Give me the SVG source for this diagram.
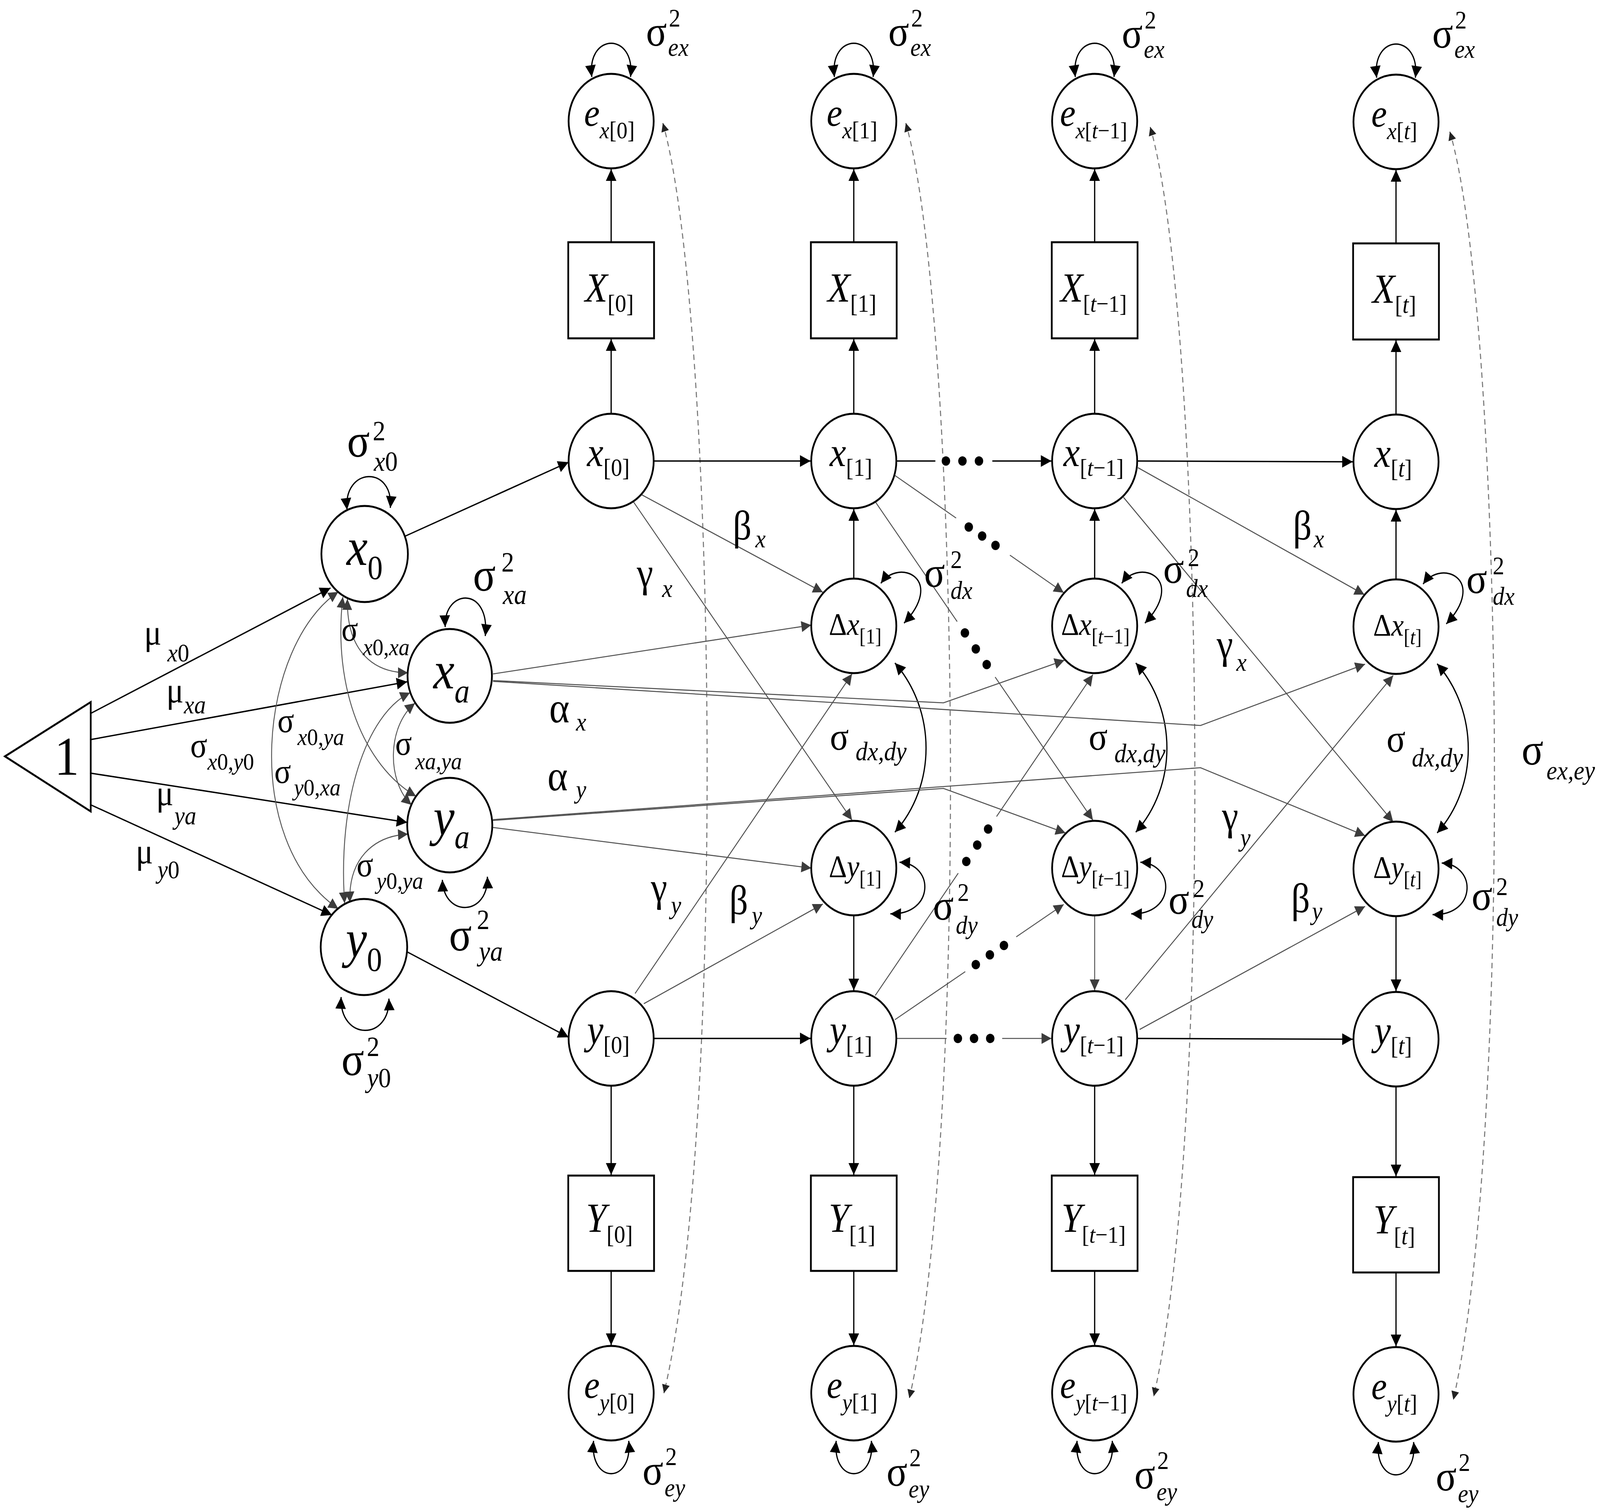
<svg xmlns="http://www.w3.org/2000/svg" width="4550" height="3865" viewBox="0 0 4550 3865">
<style>
.t{font-family:"Liberation Serif","Times New Roman",serif;fill:#000}
.i{font-style:italic}
.n{fill:#fff;stroke:#000;stroke-width:5}
.k{stroke:#000;stroke-width:3.5;fill:none}
.g{stroke:#505050;stroke-width:2.6;fill:none}
.c{stroke:#000;stroke-width:3.5;fill:none}
.cg{stroke:#555;stroke-width:2.6;fill:none}
.ds{stroke:#777;stroke-width:3;stroke-dasharray:14 10;fill:none}
.dot{fill:#000}
</style>
<defs>
<marker id="ak" viewBox="0 0 10 10" refX="10" refY="5" markerUnits="userSpaceOnUse" markerWidth="40" markerHeight="30" orient="auto-start-reverse"><path d="M0,0 L10,5 L0,10 z" fill="#000"/></marker>
<marker id="ag" viewBox="0 0 10 10" refX="10" refY="5" markerUnits="userSpaceOnUse" markerWidth="38" markerHeight="28" orient="auto-start-reverse"><path d="M0,0 L10,5 L0,10 z" fill="#3c3c3c"/></marker>
<marker id="ad" viewBox="0 0 10 10" refX="10" refY="5" markerUnits="userSpaceOnUse" markerWidth="26" markerHeight="22" orient="auto-start-reverse"><path d="M0,0 L10,5 L0,10 z" fill="#222"/></marker>
</defs>
<rect width="4550" height="3865" fill="#fff"/>
<g id="diagram" transform="scale(0.9002 1)">

<g id="connectors">
<path class="ds" d="M1885,315 C2037,800 2067,2900 1888,3566" marker-start="url(#ad)" marker-end="url(#ad)"/>
<path class="ds" d="M2576,315 C2728,800 2758,2900 2586,3579" marker-start="url(#ad)" marker-end="url(#ad)"/>
<path class="ds" d="M3271,325 C3423,800 3453,2900 3281,3574" marker-start="url(#ad)" marker-end="url(#ad)"/>
<path class="ds" d="M4123,337 C4275,800 4305,2900 4133,3583" marker-start="url(#ad)" marker-end="url(#ad)"/>

<line class="k" x1="1738" y1="1059" x2="1738" y2="868" marker-end="url(#ak)"/>
<line class="k" x1="2428" y1="1059" x2="2428" y2="868" marker-end="url(#ak)"/>
<line class="k" x1="3113" y1="1059" x2="3113" y2="868" marker-end="url(#ak)"/>
<line class="k" x1="3970" y1="1061" x2="3970" y2="871" marker-end="url(#ak)"/>
<line class="k" x1="1738" y1="620" x2="1738" y2="433" marker-end="url(#ak)"/>
<line class="k" x1="2428" y1="620" x2="2428" y2="433" marker-end="url(#ak)"/>
<line class="k" x1="3113" y1="620" x2="3113" y2="433" marker-end="url(#ak)"/>
<line class="k" x1="3970" y1="623" x2="3970" y2="435" marker-end="url(#ak)"/>
<line class="k" x1="1738" y1="2779" x2="1738" y2="3007" marker-end="url(#ak)"/>
<line class="k" x1="2428" y1="2779" x2="2428" y2="3007" marker-end="url(#ak)"/>
<line class="k" x1="3113" y1="2779" x2="3113" y2="3007" marker-end="url(#ak)"/>
<line class="k" x1="3970" y1="2781" x2="3970" y2="3011" marker-end="url(#ak)"/>
<line class="k" x1="1738" y1="3253" x2="1738" y2="3443" marker-end="url(#ak)"/>
<line class="k" x1="2428" y1="3253" x2="2428" y2="3443" marker-end="url(#ak)"/>
<line class="k" x1="3113" y1="3253" x2="3113" y2="3443" marker-end="url(#ak)"/>
<line class="k" x1="3970" y1="3257" x2="3970" y2="3446" marker-end="url(#ak)"/>
<line class="k" x1="2428" y1="1481" x2="2428" y2="1303" marker-end="url(#ak)"/>
<line class="k" x1="3113" y1="1481" x2="3113" y2="1303" marker-end="url(#ak)"/>
<line class="k" x1="3970" y1="1483" x2="3970" y2="1305" marker-end="url(#ak)"/>
<line class="k" x1="2428" y1="2343" x2="2428" y2="2535" marker-end="url(#ak)"/>
<line class="g" x1="3113" y1="2343" x2="3113" y2="2535" marker-end="url(#ag)"/>
<line class="k" x1="3970" y1="2345" x2="3970" y2="2537" marker-end="url(#ak)"/>

<line class="k" x1="1859" y1="1180" x2="2305" y2="1180" marker-end="url(#ak)"/>
<line class="k" x1="2549" y1="1180" x2="2660" y2="1180"/>
<circle class="dot" cx="2690" cy="1180" r="12"/><circle class="dot" cx="2737" cy="1180" r="12"/><circle class="dot" cx="2784" cy="1180" r="12"/>
<line class="k" x1="2822" y1="1180" x2="2990" y2="1180" marker-end="url(#ak)"/>
<line class="k" x1="3234" y1="1180" x2="3847" y2="1182" marker-end="url(#ak)"/>
<line class="k" x1="1859" y1="2658" x2="2305" y2="2658" marker-end="url(#ak)"/>
<line class="g" x1="2549" y1="2658" x2="2692" y2="2658"/>
<circle class="dot" cx="2724" cy="2658" r="12"/><circle class="dot" cx="2770" cy="2658" r="12"/><circle class="dot" cx="2816" cy="2658" r="12"/>
<line class="g" x1="2850" y1="2658" x2="2990" y2="2658" marker-end="url(#ag)"/>
<line class="k" x1="3234" y1="2658" x2="3847" y2="2660" marker-end="url(#ak)"/>

<line class="k" x1="258" y1="1826" x2="940" y2="1505" marker-end="url(#ak)"/>
<line class="k" x1="258" y1="1893" x2="1158" y2="1745" marker-end="url(#ak)"/>
<line class="k" x1="258" y1="1979" x2="1158" y2="2105" marker-end="url(#ak)"/>
<line class="k" x1="258" y1="2060" x2="944" y2="2342" marker-end="url(#ak)"/>
<line class="k" x1="1153" y1="1372" x2="1617" y2="1183" marker-end="url(#ak)"/>
<line class="k" x1="1157" y1="2436" x2="1617" y2="2655" marker-end="url(#ak)"/>

<path class="cg" d="M988,1533 C985,1670 1065,1722 1160,1722" marker-start="url(#ag)" marker-end="url(#ag)"/>
<path class="cg" d="M975,1528 C945,1760 1035,1960 1183,2038" marker-start="url(#ag)" marker-end="url(#ag)"/>
<path class="cg" d="M962,1515 C740,1650 680,2150 962,2326" marker-start="url(#ag)" marker-end="url(#ag)"/>
<path class="cg" d="M980,2312 C960,2050 1040,1830 1166,1773" marker-start="url(#ag)" marker-end="url(#ag)"/>
<path class="cg" d="M1180,1800 C1100,1860 1100,2000 1170,2060" marker-start="url(#ag)" marker-end="url(#ag)"/>
<path class="cg" d="M995,2310 C990,2200 1060,2140 1160,2135" marker-start="url(#ag)" marker-end="url(#ag)"/>

<path class="c" d="M987,1305 C975,1195 1120,1190 1110,1300" marker-start="url(#ak)" marker-end="url(#ak)"/>
<path class="c" d="M1266,1605 C1262,1505 1395,1500 1380,1628" marker-start="url(#ak)" marker-end="url(#ak)"/>
<path class="c" d="M1258,2252 C1262,2350 1390,2345 1386,2244" marker-start="url(#ak)" marker-end="url(#ak)"/>
<path class="c" d="M970,2552 C965,2665 1110,2665 1106,2556" marker-start="url(#ak)" marker-end="url(#ak)"/>
<path class="c" d="M1683,197 C1668,82 1808,82 1793,197" marker-start="url(#ak)" marker-end="url(#ak)"/>
<path class="c" d="M2373,197 C2358,82 2498,82 2483,197" marker-start="url(#ak)" marker-end="url(#ak)"/>
<path class="c" d="M3058,197 C3043,82 3183,82 3168,197" marker-start="url(#ak)" marker-end="url(#ak)"/>
<path class="c" d="M3915,199 C3900,84 4040,84 4025,199" marker-start="url(#ak)" marker-end="url(#ak)"/>
<path class="c" d="M1688,3688 C1676,3800 1800,3800 1788,3688" marker-start="url(#ak)" marker-end="url(#ak)"/>
<path class="c" d="M2378,3688 C2366,3800 2490,3800 2478,3688" marker-start="url(#ak)" marker-end="url(#ak)"/>
<path class="c" d="M3063,3688 C3051,3800 3175,3800 3163,3688" marker-start="url(#ak)" marker-end="url(#ak)"/>
<path class="c" d="M3920,3691 C3908,3803 4032,3803 4020,3691" marker-start="url(#ak)" marker-end="url(#ak)"/>
<path class="c" d="M2505,1493 C2558,1427 2688,1482 2571,1595" marker-start="url(#ak)" marker-end="url(#ak)"/>
<path class="c" d="M3190,1493 C3243,1427 3373,1482 3256,1595" marker-start="url(#ak)" marker-end="url(#ak)"/>
<path class="c" d="M4047,1495 C4100,1429 4230,1484 4113,1597" marker-start="url(#ak)" marker-end="url(#ak)"/>
<path class="c" d="M2558,2207 C2658,2212 2658,2342 2532,2339" marker-start="url(#ak)" marker-end="url(#ak)"/>
<path class="c" d="M3243,2207 C3343,2212 3343,2342 3217,2339" marker-start="url(#ak)" marker-end="url(#ak)"/>
<path class="c" d="M4100,2209 C4200,2214 4200,2344 4074,2341" marker-start="url(#ak)" marker-end="url(#ak)"/>
<path class="c" d="M2545,1697 C2663,1820 2663,2010 2545,2130" marker-start="url(#ak)" marker-end="url(#ak)"/>
<path class="c" d="M3230,1697 C3348,1820 3348,2010 3230,2130" marker-start="url(#ak)" marker-end="url(#ak)"/>
<path class="c" d="M4087,1699 C4205,1822 4205,2012 4087,2132" marker-start="url(#ak)" marker-end="url(#ak)"/>

<line class="g" x1="1402" y1="1725" x2="2307" y2="1600" marker-end="url(#ag)"/>
<polyline class="g" points="1402,1742 2683,1799 3027,1690" marker-end="url(#ag)"/>
<polyline class="g" points="1402,1744 3414,1857 3882,1700" marker-end="url(#ag)"/>
<line class="g" x1="1402" y1="2118" x2="2307" y2="2222" marker-end="url(#ag)"/>
<polyline class="g" points="1402,2100 2683,2018 3030,2132" marker-end="url(#ag)"/>
<polyline class="g" points="1402,2098 3414,1965 3882,2139" marker-end="url(#ag)"/>

<line class="g" x1="1824" y1="1266" x2="2340" y2="1516" marker-end="url(#ag)"/>
<line class="g" x1="2545" y1="1217" x2="2719" y2="1326"/>
<circle class="dot" cx="2755" cy="1349" r="12"/><circle class="dot" cx="2793" cy="1372" r="12"/><circle class="dot" cx="2831" cy="1396" r="12"/>
<line class="g" x1="2872" y1="1421" x2="3025" y2="1517" marker-end="url(#ag)"/>
<line class="g" x1="3236" y1="1197" x2="3880" y2="1522" marker-end="url(#ag)"/>
<line class="g" x1="1831" y1="2569" x2="2340" y2="2314" marker-end="url(#ag)"/>
<line class="g" x1="2545" y1="2610" x2="2745" y2="2487"/>
<circle class="dot" cx="2775" cy="2469" r="12"/><circle class="dot" cx="2815" cy="2444" r="12"/><circle class="dot" cx="2855" cy="2420" r="12"/>
<line class="g" x1="2890" y1="2398" x2="3025" y2="2315" marker-end="url(#ag)"/>
<line class="g" x1="3241" y1="2635" x2="3882" y2="2320" marker-end="url(#ag)"/>

<line class="g" x1="1801" y1="1284" x2="2423" y2="2099" marker-end="url(#ag)"/>
<line class="g" x1="2489" y1="1284" x2="2722" y2="1591"/>
<circle class="dot" cx="2744" cy="1620" r="12"/><circle class="dot" cx="2775" cy="1661" r="12"/><circle class="dot" cx="2806" cy="1701" r="12"/>
<line class="g" x1="2830" y1="1733" x2="3108" y2="2099" marker-end="url(#ag)"/>
<line class="g" x1="3195" y1="1273" x2="3962" y2="2104" marker-end="url(#ag)"/>
<line class="g" x1="1806" y1="2543" x2="2423" y2="1725" marker-end="url(#ag)"/>
<line class="g" x1="2489" y1="2548" x2="2725" y2="2235"/>
<circle class="dot" cx="2748" cy="2205" r="12"/><circle class="dot" cx="2779" cy="2163" r="12"/><circle class="dot" cx="2810" cy="2122" r="12"/>
<line class="g" x1="2834" y1="2090" x2="3108" y2="1727" marker-end="url(#ag)"/>
<line class="g" x1="3200" y1="2559" x2="3962" y2="1729" marker-end="url(#ag)"/>
</g>

<g id="n-one"><polygon class="n" points="14,1936 258,1797 258,2077"/><text class="t" x="190" y="1983" text-anchor="middle" font-size="140">1</text></g>
<g id="n-x0"><circle class="n" cx="1037" cy="1418" r="123"/><text class="t" x="1037" y="1446" text-anchor="middle" font-size="135"><tspan class="i">x</tspan><tspan font-size="86" dy="36">0</tspan></text></g>
<g id="n-xa"><circle class="n" cx="1279" cy="1730" r="120"/><text class="t" x="1284" y="1762" text-anchor="middle" font-size="135"><tspan class="i">x</tspan><tspan class="i" font-size="86" dy="36">a</tspan></text></g>
<g id="n-ya"><circle class="n" cx="1279" cy="2112" r="121"/><text class="t" x="1284" y="2137" text-anchor="middle" font-size="135"><tspan class="i">y</tspan><tspan class="i" font-size="86" dy="34">a</tspan></text></g>
<g id="n-y0"><circle class="n" cx="1035" cy="2424" r="123"/><text class="t" x="1035" y="2449" text-anchor="middle" font-size="135"><tspan class="i">y</tspan><tspan font-size="86" dy="36">0</tspan></text></g>

<g id="n-ex0"><circle class="n" cx="1738" cy="310" r="121"/><text class="t" x="1733" y="322" text-anchor="middle" font-size="100"><tspan class="i">e</tspan><tspan font-size="62" dy="32"><tspan class="i">x</tspan>[0]</tspan></text></g>
<g id="n-X0"><rect class="n" x="1616" y="620" width="244" height="246"/><text class="t" x="1733" y="772" text-anchor="middle" font-size="105"><tspan class="i">X</tspan><tspan font-size="64" dy="26">[0]</tspan></text></g>
<g id="n-x_0"><circle class="n" cx="1738" cy="1180" r="121"/><text class="t" x="1730" y="1193" text-anchor="middle" font-size="105"><tspan class="i">x</tspan><tspan font-size="64" dy="25">[0]</tspan></text></g>
<g id="n-y_0"><circle class="n" cx="1738" cy="2658" r="121"/><text class="t" x="1730" y="2671" text-anchor="middle" font-size="105"><tspan class="i">y</tspan><tspan font-size="64" dy="25">[0]</tspan></text></g>
<g id="n-Y0"><rect class="n" x="1616" y="3009" width="244" height="244"/><text class="t" x="1733" y="3153" text-anchor="middle" font-size="105"><tspan class="i">Y</tspan><tspan font-size="64" dy="28">[0]</tspan></text></g>
<g id="n-ey0"><circle class="n" cx="1738" cy="3566" r="121"/><text class="t" x="1733" y="3578" text-anchor="middle" font-size="100"><tspan class="i">e</tspan><tspan font-size="62" dy="32"><tspan class="i">y</tspan>[0]</tspan></text></g>

<g id="n-ex1"><circle class="n" cx="2428" cy="310" r="121"/><text class="t" x="2423" y="322" text-anchor="middle" font-size="100"><tspan class="i">e</tspan><tspan font-size="62" dy="32"><tspan class="i">x</tspan>[1]</tspan></text></g>
<g id="n-X1"><rect class="n" x="2306" y="620" width="244" height="246"/><text class="t" x="2423" y="772" text-anchor="middle" font-size="105"><tspan class="i">X</tspan><tspan font-size="64" dy="26">[1]</tspan></text></g>
<g id="n-x_1"><circle class="n" cx="2428" cy="1180" r="121"/><text class="t" x="2420" y="1193" text-anchor="middle" font-size="105"><tspan class="i">x</tspan><tspan font-size="64" dy="25">[1]</tspan></text></g>
<g id="n-dx1"><circle class="n" cx="2428" cy="1602" r="121"/><text class="t" x="2432" y="1625" text-anchor="middle" font-size="80">Δ<tspan class="i">x</tspan><tspan font-size="54" dy="22">[1]</tspan></text></g>
<g id="n-dy1"><circle class="n" cx="2428" cy="2222" r="121"/><text class="t" x="2432" y="2245" text-anchor="middle" font-size="80">Δ<tspan class="i">y</tspan><tspan font-size="54" dy="22">[1]</tspan></text></g>
<g id="n-y_1"><circle class="n" cx="2428" cy="2658" r="121"/><text class="t" x="2420" y="2671" text-anchor="middle" font-size="105"><tspan class="i">y</tspan><tspan font-size="64" dy="25">[1]</tspan></text></g>
<g id="n-Y1"><rect class="n" x="2306" y="3009" width="244" height="244"/><text class="t" x="2423" y="3153" text-anchor="middle" font-size="105"><tspan class="i">Y</tspan><tspan font-size="64" dy="28">[1]</tspan></text></g>
<g id="n-ey1"><circle class="n" cx="2428" cy="3566" r="121"/><text class="t" x="2423" y="3578" text-anchor="middle" font-size="100"><tspan class="i">e</tspan><tspan font-size="62" dy="32"><tspan class="i">y</tspan>[1]</tspan></text></g>

<g id="n-ext1"><circle class="n" cx="3113" cy="310" r="121"/><text class="t" x="3110" y="322" text-anchor="middle" font-size="100"><tspan class="i">e</tspan><tspan font-size="60" dy="32"><tspan class="i">x</tspan>[<tspan class="i">t</tspan>−1]</tspan></text></g>
<g id="n-Xt1"><rect class="n" x="2991" y="620" width="244" height="246"/><text class="t" x="3110" y="772" text-anchor="middle" font-size="105"><tspan class="i">X</tspan><tspan font-size="62" dy="26">[<tspan class="i">t</tspan>−1]</tspan></text></g>
<g id="n-x_t1"><circle class="n" cx="3113" cy="1180" r="121"/><text class="t" x="3110" y="1193" text-anchor="middle" font-size="105"><tspan class="i">x</tspan><tspan font-size="62" dy="25">[<tspan class="i">t</tspan>−1]</tspan></text></g>
<g id="n-dxt1"><circle class="n" cx="3113" cy="1602" r="121"/><text class="t" x="3115" y="1625" text-anchor="middle" font-size="80">Δ<tspan class="i">x</tspan><tspan font-size="54" dy="22">[<tspan class="i">t</tspan>−1]</tspan></text></g>
<g id="n-dyt1"><circle class="n" cx="3113" cy="2222" r="121"/><text class="t" x="3115" y="2245" text-anchor="middle" font-size="80">Δ<tspan class="i">y</tspan><tspan font-size="54" dy="22">[<tspan class="i">t</tspan>−1]</tspan></text></g>
<g id="n-y_t1"><circle class="n" cx="3113" cy="2658" r="121"/><text class="t" x="3110" y="2671" text-anchor="middle" font-size="105"><tspan class="i">y</tspan><tspan font-size="62" dy="25">[<tspan class="i">t</tspan>−1]</tspan></text></g>
<g id="n-Yt1"><rect class="n" x="2991" y="3009" width="244" height="244"/><text class="t" x="3110" y="3153" text-anchor="middle" font-size="105"><tspan class="i">Y</tspan><tspan font-size="62" dy="28">[<tspan class="i">t</tspan>−1]</tspan></text></g>
<g id="n-eyt1"><circle class="n" cx="3113" cy="3566" r="121"/><text class="t" x="3110" y="3578" text-anchor="middle" font-size="100"><tspan class="i">e</tspan><tspan font-size="60" dy="32"><tspan class="i">y</tspan>[<tspan class="i">t</tspan>−1]</tspan></text></g>

<g id="n-ext"><circle class="n" cx="3970" cy="312" r="121"/><text class="t" x="3965" y="324" text-anchor="middle" font-size="100"><tspan class="i">e</tspan><tspan font-size="62" dy="32"><tspan class="i">x</tspan>[<tspan class="i">t</tspan>]</tspan></text></g>
<g id="n-Xt"><rect class="n" x="3848" y="623" width="244" height="246"/><text class="t" x="3965" y="775" text-anchor="middle" font-size="105"><tspan class="i">X</tspan><tspan font-size="64" dy="26">[<tspan class="i">t</tspan>]</tspan></text></g>
<g id="n-x_t"><circle class="n" cx="3970" cy="1182" r="121"/><text class="t" x="3962" y="1195" text-anchor="middle" font-size="105"><tspan class="i">x</tspan><tspan font-size="64" dy="25">[<tspan class="i">t</tspan>]</tspan></text></g>
<g id="n-dxt"><circle class="n" cx="3970" cy="1604" r="121"/><text class="t" x="3974" y="1627" text-anchor="middle" font-size="80">Δ<tspan class="i">x</tspan><tspan font-size="54" dy="22">[<tspan class="i">t</tspan>]</tspan></text></g>
<g id="n-dyt"><circle class="n" cx="3970" cy="2224" r="121"/><text class="t" x="3974" y="2247" text-anchor="middle" font-size="80">Δ<tspan class="i">y</tspan><tspan font-size="54" dy="22">[<tspan class="i">t</tspan>]</tspan></text></g>
<g id="n-y_t"><circle class="n" cx="3970" cy="2660" r="121"/><text class="t" x="3962" y="2673" text-anchor="middle" font-size="105"><tspan class="i">y</tspan><tspan font-size="64" dy="25">[<tspan class="i">t</tspan>]</tspan></text></g>
<g id="n-Yt"><rect class="n" x="3848" y="3013" width="244" height="244"/><text class="t" x="3965" y="3157" text-anchor="middle" font-size="105"><tspan class="i">Y</tspan><tspan font-size="64" dy="28">[<tspan class="i">t</tspan>]</tspan></text></g>
<g id="n-eyt"><circle class="n" cx="3970" cy="3569" r="121"/><text class="t" x="3965" y="3581" text-anchor="middle" font-size="100"><tspan class="i">e</tspan><tspan font-size="62" dy="32"><tspan class="i">y</tspan>[<tspan class="i">t</tspan>]</tspan></text></g>

<g id="labels" class="t">
<text><tspan x="987" y="1169" font-size="120">σ</tspan><tspan x="1060" y="1127" font-size="72">2</tspan><tspan x="1063" y="1205" font-size="72"><tspan class="i">x</tspan>0</tspan></text>
<text><tspan x="1345" y="1512" font-size="120">σ</tspan><tspan x="1426" y="1463" font-size="72">2</tspan><tspan x="1430" y="1546" font-size="72" class="i">xa</tspan></text>
<text><tspan x="1277" y="2433" font-size="120">σ</tspan><tspan x="1356" y="2378" font-size="72">2</tspan><tspan x="1362" y="2459" font-size="72" class="i">ya</tspan></text>
<text><tspan x="971" y="2752" font-size="120">σ</tspan><tspan x="1043" y="2703" font-size="72">2</tspan><tspan x="1044" y="2783" font-size="72"><tspan class="i">y</tspan>0</tspan></text>
<text><tspan x="410" y="1650" font-size="92">μ</tspan><tspan x="476" y="1693" font-size="66"><tspan class="i">x</tspan>0</tspan></text>
<text><tspan x="473" y="1798" font-size="92">μ</tspan><tspan x="523" y="1826" font-size="66" class="i">xa</tspan></text>
<text><tspan x="444" y="2061" font-size="92">μ</tspan><tspan x="496" y="2110" font-size="66" class="i">ya</tspan></text>
<text><tspan x="386" y="2210" font-size="92">μ</tspan><tspan x="448" y="2248" font-size="66"><tspan class="i">y</tspan>0</tspan></text>
<text><tspan x="541" y="1938" font-size="90">σ</tspan><tspan x="590" y="1970" font-size="62"><tspan class="i">x</tspan>0,<tspan class="i">y</tspan>0</tspan></text>
<text><tspan x="789" y="1874" font-size="88">σ</tspan><tspan x="846" y="1907" font-size="62"><tspan class="i">x</tspan>0,<tspan class="i">ya</tspan></tspan></text>
<text><tspan x="780" y="2004" font-size="88">σ</tspan><tspan x="836" y="2036" font-size="62"><tspan class="i">y</tspan>0,<tspan class="i">xa</tspan></tspan></text>
<text><tspan x="971" y="1640" font-size="88">σ</tspan><tspan x="1032" y="1677" font-size="62"><tspan class="i">x</tspan>0,<tspan class="i">xa</tspan></tspan></text>
<text><tspan x="1124" y="1932" font-size="88">σ</tspan><tspan x="1181" y="1969" font-size="62" class="i">xa,ya</tspan></text>
<text><tspan x="1014" y="2243" font-size="88">σ</tspan><tspan x="1071" y="2275" font-size="62"><tspan class="i">y</tspan>0,<tspan class="i">ya</tspan></tspan></text>

<text><tspan x="2084" y="1381" font-size="105">β</tspan><tspan x="2148" y="1401" font-size="66" class="i">x</tspan></text>
<text><tspan x="1811" y="1501" font-size="105">γ</tspan><tspan x="1883" y="1528" font-size="66" class="i">x</tspan></text>
<text><tspan x="1562" y="1849" font-size="110">α</tspan><tspan x="1638" y="1870" font-size="66" class="i">x</tspan></text>
<text><tspan x="1557" y="2023" font-size="110">α</tspan><tspan x="1638" y="2043" font-size="66" class="i">y</tspan></text>
<text><tspan x="1851" y="2306" font-size="105">γ</tspan><tspan x="1908" y="2339" font-size="66" class="i">y</tspan></text>
<text><tspan x="2074" y="2340" font-size="105">β</tspan><tspan x="2138" y="2365" font-size="66" class="i">y</tspan></text>
<text><tspan x="3677" y="1381" font-size="105">β</tspan><tspan x="3736" y="1401" font-size="66" class="i">x</tspan></text>
<text><tspan x="3460" y="1684" font-size="105">γ</tspan><tspan x="3516" y="1717" font-size="66" class="i">x</tspan></text>
<text><tspan x="3475" y="2123" font-size="105">γ</tspan><tspan x="3527" y="2166" font-size="66" class="i">y</tspan></text>
<text><tspan x="3672" y="2335" font-size="105">β</tspan><tspan x="3731" y="2354" font-size="66" class="i">y</tspan></text>

<text><tspan x="2360" y="1919" font-size="100">σ</tspan><tspan x="2433" y="1946" font-size="68" class="i">dx,dy</tspan></text>
<text><tspan x="3096" y="1919" font-size="100">σ</tspan><tspan x="3169" y="1951" font-size="68" class="i">dx,dy</tspan></text>
<text><tspan x="3943" y="1924" font-size="100">σ</tspan><tspan x="4015" y="1962" font-size="68" class="i">dx,dy</tspan></text>
<text><tspan x="4327" y="1957" font-size="115">σ</tspan><tspan x="4398" y="1995" font-size="68" class="i">ex,ey</tspan></text>

<text><tspan x="2628" y="1502" font-size="110">σ</tspan><tspan x="2703" y="1454" font-size="66">2</tspan><tspan x="2703" y="1533" font-size="66" class="i">dx</tspan></text>
<text><tspan x="3308" y="1492" font-size="110">σ</tspan><tspan x="3378" y="1449" font-size="66">2</tspan><tspan x="3373" y="1528" font-size="66" class="i">dx</tspan></text>
<text><tspan x="4170" y="1518" font-size="110">σ</tspan><tspan x="4245" y="1470" font-size="66">2</tspan><tspan x="4245" y="1548" font-size="66" class="i">dx</tspan></text>
<text><tspan x="2653" y="2354" font-size="110">σ</tspan><tspan x="2723" y="2306" font-size="66">2</tspan><tspan x="2718" y="2390" font-size="66" class="i">dy</tspan></text>
<text><tspan x="3323" y="2339" font-size="110">σ</tspan><tspan x="3393" y="2296" font-size="66">2</tspan><tspan x="3388" y="2375" font-size="66" class="i">dy</tspan></text>
<text><tspan x="4185" y="2329" font-size="110">σ</tspan><tspan x="4255" y="2291" font-size="66">2</tspan><tspan x="4255" y="2370" font-size="66" class="i">dy</tspan></text>

<text><tspan x="1837" y="117" font-size="110">σ</tspan><tspan x="1902" y="68" font-size="66">2</tspan><tspan x="1900" y="143" font-size="66" class="i">ex</tspan></text>
<text><tspan x="2526" y="117" font-size="110">σ</tspan><tspan x="2591" y="68" font-size="66">2</tspan><tspan x="2589" y="143" font-size="66" class="i">ex</tspan></text>
<text><tspan x="3190" y="122" font-size="110">σ</tspan><tspan x="3255" y="73" font-size="66">2</tspan><tspan x="3253" y="148" font-size="66" class="i">ex</tspan></text>
<text><tspan x="4073" y="122" font-size="110">σ</tspan><tspan x="4138" y="73" font-size="66">2</tspan><tspan x="4136" y="148" font-size="66" class="i">ex</tspan></text>

<text><tspan x="1827" y="3800" font-size="110">σ</tspan><tspan x="1892" y="3750" font-size="66">2</tspan><tspan x="1890" y="3830" font-size="66" class="i">ey</tspan></text>
<text><tspan x="2521" y="3803" font-size="110">σ</tspan><tspan x="2586" y="3753" font-size="66">2</tspan><tspan x="2584" y="3833" font-size="66" class="i">ey</tspan></text>
<text><tspan x="3226" y="3810" font-size="110">σ</tspan><tspan x="3291" y="3760" font-size="66">2</tspan><tspan x="3289" y="3840" font-size="66" class="i">ey</tspan></text>
<text><tspan x="4083" y="3815" font-size="110">σ</tspan><tspan x="4148" y="3765" font-size="66">2</tspan><tspan x="4146" y="3845" font-size="66" class="i">ey</tspan></text>
</g>
</g>
</svg>
